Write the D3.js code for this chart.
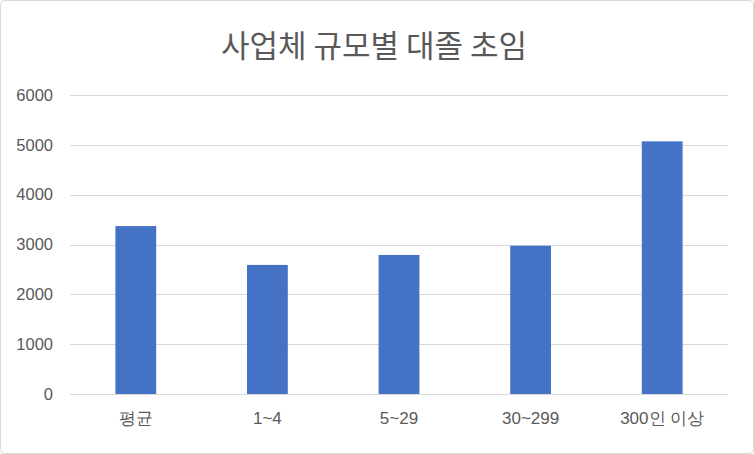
<!DOCTYPE html>
<html><head><meta charset="utf-8">
<script src="https://cdn.jsdelivr.net/npm/d3@7"></script>
<style>
html,body{margin:0;padding:0;background:#fff;}
svg{display:block;font-family:"Noto Sans CJK KR","Noto Sans",sans-serif;}
</style></head>
<body>
<svg id="c" width="754" height="454"></svg>
<script>
const title = "사업체 규모별 대졸 초임";
const categories = ["평균", "1~4", "5~29", "30~299", "300인 이상"];
const values = [3370, 2590, 2790, 2975, 5070];
const yTicks = [0, 1000, 2000, 3000, 4000, 5000, 6000];

const svg = d3.select("#c");
const W = 754, H = 454;
const m = {left: 70, right: 26, top: 95, bottom: 60};

svg.append("rect").attr("x", 0.5).attr("y", 0.5).attr("width", W - 1).attr("height", H - 1)
  .attr("rx", 4).attr("fill", "#fff").attr("stroke", "#d9d9d9");

const x = d3.scaleBand().domain(categories).range([m.left, W - m.right]).paddingInner(0.69).paddingOuter(0.345);
const y = d3.scaleLinear().domain([0, 6000]).range([H - m.bottom, m.top]);

const grid = svg.append("g");
grid.selectAll("line").data(yTicks).join("line")
  .attr("x1", m.left).attr("x2", W - m.right)
  .attr("y1", d => Math.round(y(d)) + 0.5).attr("y2", d => Math.round(y(d)) + 0.5)
  .attr("stroke", "#d9d9d9").attr("stroke-width", 1);

const yAxis = svg.append("g").attr("transform", `translate(${m.left},0)`)
  .call(d3.axisLeft(y).tickValues(yTicks).tickSize(0).tickPadding(17).tickFormat(d3.format("d")));
yAxis.select(".domain").remove();
yAxis.selectAll("text").attr("fill", "#595959").attr("font-size", 16.5);

svg.append("g").selectAll("rect").data(values).join("rect")
  .attr("x", (d, i) => x(categories[i]))
  .attr("width", x.bandwidth())
  .attr("y", d => y(d))
  .attr("height", d => y(0) - y(d))
  .attr("fill", "#4472c4");

const xAxis = svg.append("g").attr("transform", `translate(0,${y(0)})`)
  .call(d3.axisBottom(x).tickSize(0).tickPadding(18));
xAxis.select(".domain").remove();
xAxis.selectAll("text").attr("fill", "#595959").attr("font-size", 17);

svg.append("text").attr("x", 374).attr("y", 57).attr("text-anchor", "middle")
  .attr("fill", "#595959").attr("font-size", 31).text(title);
</script>
</body></html>
